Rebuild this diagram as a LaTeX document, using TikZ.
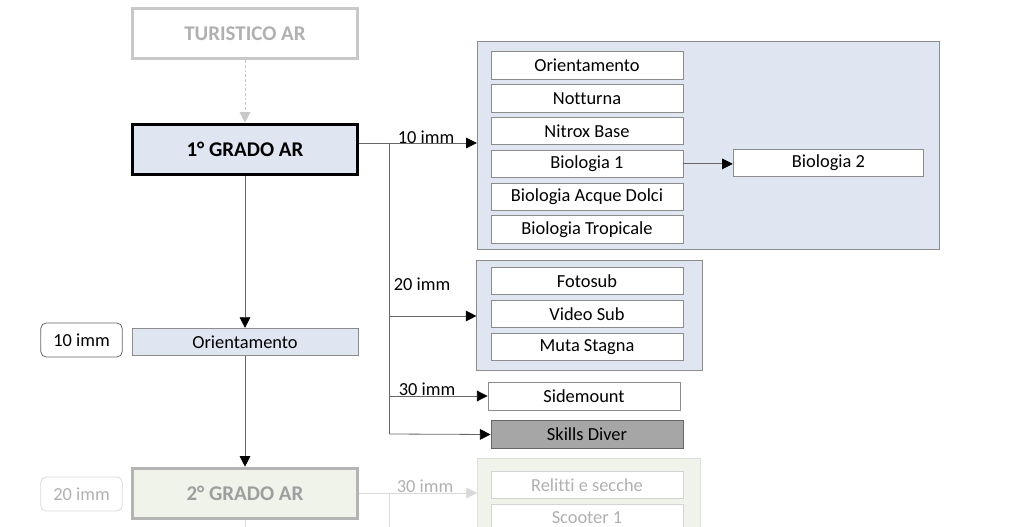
\documentclass[tikz,border=0pt]{standalone}
\usepackage{fontspec}
\setmainfont[Ligatures=NoCommon]{Carlito}
\usetikzlibrary{arrows.meta,positioning}
\definecolor{paleblue}{HTML}{DFE6F1}
\definecolor{palegreen}{HTML}{EFF3EA}
\definecolor{boxgray}{HTML}{8C8C8C}
\definecolor{fadeline}{HTML}{C8C8C8}
\definecolor{fadetext}{HTML}{B0B0B0}
\definecolor{linegray}{HTML}{666666}
\definecolor{skillgray}{HTML}{A6A6A6}

\begin{document}
\begin{tikzpicture}[x=0.75pt,y=-0.75pt,
  level/.style={draw=black, line width=2.2pt, fill=paleblue, inner sep=0pt,
    minimum width=169pt, minimum height=38pt,
    font=\fontsize{15.7}{18}\selectfont\bfseries},
  fadelevel/.style={level, draw=fadeline, fill=white, text=fadetext},
  group/.style={draw=boxgray, fill=paleblue, line width=0.6pt, inner sep=0pt},
  course/.style={draw=boxgray, fill=white, line width=0.6pt, inner sep=0pt,
    minimum width=144pt, minimum height=20.5pt,
    font=\fontsize{13.8}{16}\selectfont},
  fadecourse/.style={course, draw=fadeline, text=fadetext},
  tag/.style={draw=linegray, rounded corners=4pt, line width=0.6pt, inner sep=0pt,
    minimum width=61pt, minimum height=25.5pt,
    font=\fontsize{13.8}{16}\selectfont},
  gap/.style={font=\fontsize{13.8}{16}\selectfont, inner sep=1pt},
  arrow/.style={-{Triangle[length=8pt,width=8pt,color=black]}, draw=linegray, line width=0.6pt},
  link/.style={draw=linegray, line width=0.6pt},
  fadearrow/.style={-{Triangle[length=8pt,width=8pt]}, draw=fadeline, color=fadeline, line width=0.6pt}
]
\useasboundingbox (0,0) rectangle (1024,527);
\clip (0,0) rectangle (1024,527);

% livelli
\node[fadelevel] (turistico) at (245,33.5) {TURISTICO AR};
\node[level] (grado1) at (245,149.5) {1° GRADO AR};
\node[course, fill=paleblue, minimum width=169.5pt] (orient) at (245,342) {Orientamento};
\node[tag] (imm10) at (81.5,340) {10 imm};
\node[fadelevel, draw=fadeline!90!black, fill=palegreen, text=fadetext!90!black] (grado2) at (245,493.5) {2° GRADO AR};
\node[tag, draw=fadeline!70, text=fadetext] (imm20) at (81.5,494) {20 imm};

% specialita 10 immersioni
\node[group, minimum width=347pt, minimum height=156pt] (spec1) at (708.5,145) {};
\node[course] (c1) at (587,65.5) {Orientamento};
\node[course, below=3.5pt of c1] (c2) {Notturna};
\node[course, below=3.5pt of c2] (c3) {Nitrox Base};
\node[course, below=3.5pt of c3] (bio1) {Biologia 1};
\node[course, below=3.5pt of bio1] (c5) {Biologia Acque Dolci};
\node[course, below=3.5pt of c5] (c6) {Biologia Tropicale};
\node[course, minimum width=143pt] (bio2) at (828.5,163) {Biologia 2};

% specialita 20 immersioni
\node[group, minimum width=169pt, minimum height=82pt] (spec2) at (589.5,315.5) {};
\node[course] (f1) at (587,281) {Fotosub};
\node[course, below=3.7pt of f1] (f2) {Video Sub};
\node[course, below=3.7pt of f2] (f3) {Muta Stagna};

% 30 immersioni
\node[course] (side) at (584,396.5) {Sidemount};
\node[course, fill=skillgray, draw=linegray] (skills) at (587,434.5) {Skills Diver};

% secondo grado
\draw[fadeline!60, fill=palegreen, line width=0.6pt] (477,458) rectangle (700,600);
\node[fadecourse, draw=fadeline!80] (relitti) at (587,485) {Relitti e secche};
\node[fadecourse, draw=fadeline!80] (scooter) at (587,518) {Scooter 1};

% collegamenti
\coordinate (split) at (389,143);
\coordinate (split20) at (389,316);
\coordinate (split30) at (389,396);
\coordinate (splitsk) at (389,434);
\coordinate (split2) at (389,493);
\coordinate (bottom) at (245,540);
\coordinate (bottom2) at (389,540);

\draw[fadearrow, dashed, dash pattern=on 2pt off 1.5pt] (turistico) -- (grado1);
\draw[link] (grado1.east |- split) -- (split);
\draw[arrow] (split) -- (spec1.west |- split);
\draw[link] (split) -- (splitsk);
\draw[arrow] (split20) -- (spec2.west |- split20);
\draw[arrow] (split30) -- (side.west |- split30);
\draw[arrow] (splitsk) -- (skills.west);
\draw[arrow] (bio1.east) -- (bio2.west |- bio1.east);
\draw[arrow] (grado1) -- (orient);
\draw[arrow] (orient) -- (grado2);
\draw[draw=fadeline!70, line width=0.6pt] (grado2) -- (bottom);
\draw[draw=fadeline!70, line width=0.6pt] (grado2.east |- split2) -- (split2);
\draw[fadearrow, draw=fadeline!70, color=fadeline!70] (split2) -- (477,493);
\draw[draw=fadeline!70, line width=0.6pt] (split2) -- (bottom2);

\node[gap, anchor=south] at (426,145) {10 imm};
\node[gap] at (422,284) {20 imm};
\node[gap, anchor=south] at (427,397) {30 imm};
\node[gap, text=fadetext, anchor=south] at (425,494) {30 imm};
\end{tikzpicture}
\end{document}
